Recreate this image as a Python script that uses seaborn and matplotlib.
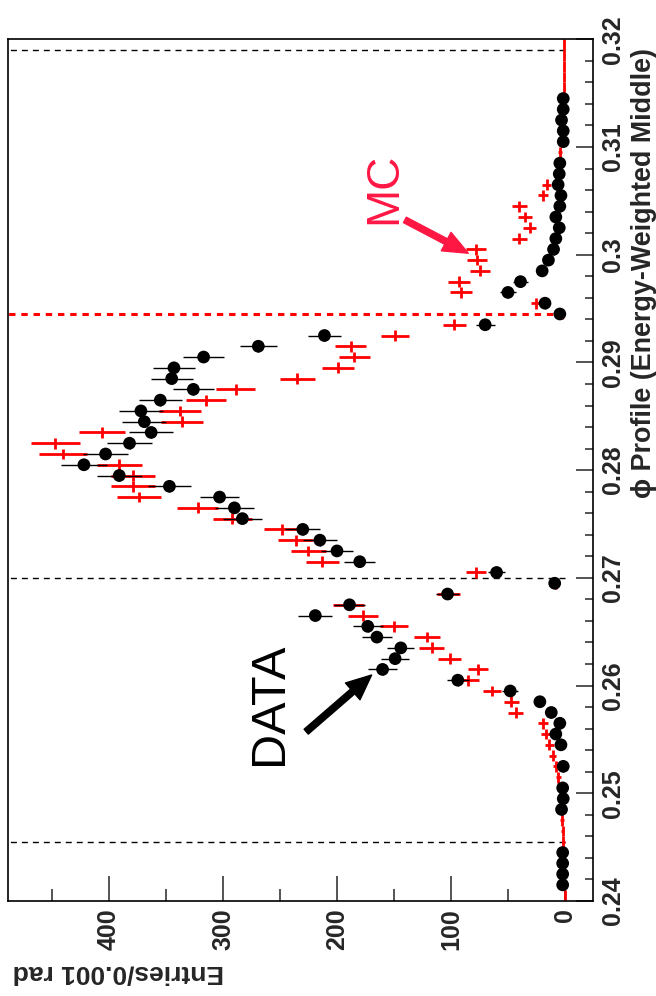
import numpy as np
import pandas as pd
import matplotlib
matplotlib.use("Agg")
import matplotlib.pyplot as plt
from matplotlib.ticker import MultipleLocator
import seaborn as sns

nan = np.nan

# 1 mrad bins between 0.240 and 0.320 rad
phi_lo, phi_hi, bin_w = 0.240, 0.320, 0.001
phi_centers = np.round(np.arange(phi_lo + bin_w / 2, phi_hi, bin_w), 4)

# entries per bin, measured data (empty bins are not drawn)
data_counts = [
    nan, 2, 2, 2, 2, nan, nan, nan, 3, 1.5,
    2, nan, 1.5, nan, 3.5, 8, 4.5, 12, 22, 48,
    94, 160, 149, 144, 165, 173, 219, 189, 103, 9,
    60, 180, 200, 215, 230, 283, 290, 303, 347, 391,
    422, 403, 382, 363, 369, 372, 355, 326, 345, 343,
    317, 269, 211, 70, 4.5, 17.5, 50, 39, 20, 14.5,
    10, 8, 5, 8, 4.5, 3.5, 6, 5, 4.5, nan,
    1.5, 1.5, 3, 1.5, 1.5, nan, nan, nan, nan, nan,
]

# entries per bin, simulation
mc_counts = [
    0.3, 0.5, 0.8, 1, 1.3, 1.6, 2, 2.4, 2.8, 3.3,
    4, 5.8, 8, 10.8, 13.7, 16.7, 19.6, 43, 47, 64,
    85, 76, 101, 117, 121, 150, 177, 190, 102, 8,
    78, 213, 225, 236, 248, 292, 322, 374, 379, 379,
    391, 440, 447, 406, 336, 338, 315, 289, 235, 199,
    185, 188, 149, 97, 3, 25, 91.5, 93, 74.6, 77.5,
    78, 40, 31, 35, 40, 19, 16, 5, 4, 4.4,
    3, 2.5, 2, 1.5, 1, 0.5, 0.5, 0.5, 0.5, 0.5,
]

# crystal boundaries marked with dashed lines
black_edges = [0.2455, 0.270, 0.319]
red_edges = [0.2945]

x_label = "Entries/0.001 rad"
phi_label = "\u03d5 Profile (Energy-Weighted Middle)"
x_major = [0, 100, 200, 300, 400]
phi_major = [0.24, 0.25, 0.26, 0.27, 0.28, 0.29, 0.30, 0.31, 0.32]
phi_tick_text = ["0.24", "0.25", "0.26", "0.27", "0.28", "0.29", "0.3", "0.31", "0.32"]

df = pd.DataFrame({"phi": phi_centers, "data": data_counts, "mc": mc_counts})
df["data_err"] = np.sqrt(df["data"])
df["mc_err"] = np.sqrt(df["mc"])

sns.set_style("white")
plt.rcParams["font.family"] = ["Liberation Sans", "DejaVu Sans"]
plt.rcParams["lines.scale_dashes"] = False

W, H = 656, 996
fig = plt.figure(figsize=(W / 100, H / 100), dpi=100)
ax = fig.add_axes([8 / W, (H - 901) / H, 585 / W, (901 - 39.3) / H])

x_left, x_right = 488.6, -24.6
ax.set_xlim(x_left, x_right)
ax.set_ylim(phi_lo, phi_hi)

# boundary lines
ax.hlines(black_edges, 0, x_left, colors="black", linewidth=1.0,
          linestyles=(0, (4.3, 3.6)), zorder=1)
ax.hlines(red_edges, 0, x_left, colors="red", linewidth=2.2,
          linestyles=(0, (4.6, 4.2)), zorder=1)

# simulation: crosses (statistical error x bin width)
mc = df.dropna(subset=["mc"])
ax.errorbar(mc["mc"], mc["phi"], xerr=mc["mc_err"], yerr=bin_w / 2,
            fmt="none", ecolor="red", elinewidth=2.0, capsize=0, zorder=2)

# data: error bars + filled circles
dd = df.dropna(subset=["data"])
ax.errorbar(dd["data"], dd["phi"], xerr=dd["data_err"], yerr=bin_w / 2,
            fmt="none", ecolor="black", elinewidth=1.0, capsize=0, zorder=3)
sns.scatterplot(data=dd, x="data", y="phi", ax=ax, color="black", s=84,
                edgecolor="none", linewidth=0, zorder=4, legend=False)
ax.set_xlabel("")
ax.set_ylabel("")

# axes styling
for s in ax.spines.values():
    s.set_linewidth(1.2)
    s.set_color("black")

ax.xaxis.set_major_locator(plt.FixedLocator(x_major))
ax.xaxis.set_minor_locator(MultipleLocator(50))
ax.yaxis.tick_right()
ax.set_yticks(phi_major)
ax.set_yticklabels(phi_tick_text)
ax.yaxis.set_minor_locator(MultipleLocator(0.002))

ax.tick_params(axis="x", which="major", direction="in", length=18, width=1.1,
               bottom=True, top=False, labelsize=18, pad=5, labelrotation=90)
ax.tick_params(axis="x", which="minor", direction="in", length=9, width=1.1,
               bottom=True, top=False)
ax.tick_params(axis="y", which="major", direction="in", length=12, width=1.1,
               right=True, left=False, labelright=True, labelleft=False,
               labelsize=18, pad=6, labelrotation=90)
ax.tick_params(axis="y", which="minor", direction="in", length=5.8, width=1.1,
               right=True, left=False)
for lab in ax.get_xticklabels() + ax.get_yticklabels():
    lab.set_fontweight("bold")
for lab in ax.get_yticklabels():
    lab.set_verticalalignment("center")

# axis titles
fig.text(13 / W, (H - 972) / H, x_label, rotation=180, ha="left", va="center",
         fontsize=19, fontweight="bold")
fig.text(644 / W, (H - 48) / H, phi_label, rotation=90, ha="center", va="top",
         fontsize=19.4, fontweight="bold")

# annotations
ax.text(258.8, 0.2583, "DATA", rotation=90, ha="center", va="center",
        fontsize=35, color="black", fontweight="normal")
ax.annotate("", xy=(169.6, 0.26098), xytext=(227, 0.25572),
            arrowprops=dict(arrowstyle="simple,head_length=0.9,head_width=0.8,tail_width=0.23",
                            mutation_scale=20, color="black", shrinkA=0, shrinkB=0))
mc_color = "#ff1744"
ax.text(158.8, 0.3062, "MC", rotation=90, ha="center", va="center",
        fontsize=33, color=mc_color, fontweight="normal")
ax.annotate("", xy=(84.8, 0.30014), xytext=(140.4, 0.30323),
            arrowprops=dict(arrowstyle="simple,head_length=0.9,head_width=0.75,tail_width=0.22",
                            mutation_scale=20, color=mc_color, shrinkA=0, shrinkB=0))

fig.savefig("out.png", dpi=100, facecolor="white")
